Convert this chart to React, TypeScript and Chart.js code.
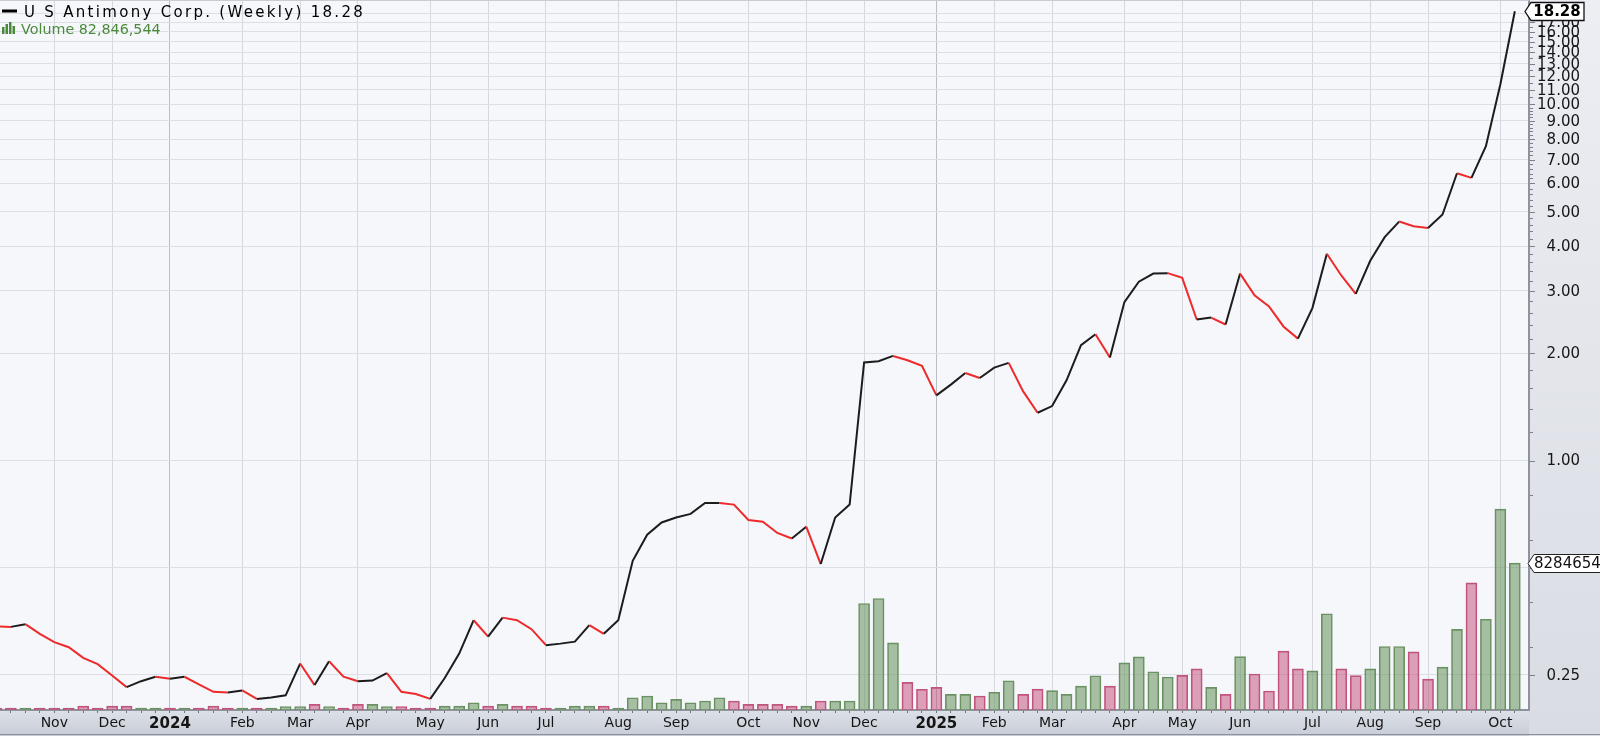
import { useEffect, useRef } from 'react';
import { Chart, registerables } from 'chart.js';

Chart.register(...registerables);

// ---- categories: week start (Monday) dates ----
const weekStarts: string[] = [
  '2023-10-09', '2023-10-16', '2023-10-23', '2023-10-30', '2023-11-06', '2023-11-13', '2023-11-20', '2023-11-27',
  '2023-12-04', '2023-12-11', '2023-12-18', '2023-12-25',
  '2024-01-01', '2024-01-08', '2024-01-15', '2024-01-22', '2024-01-29', '2024-02-05', '2024-02-12', '2024-02-19',
  '2024-02-26', '2024-03-04', '2024-03-11', '2024-03-18', '2024-03-25', '2024-04-01', '2024-04-08', '2024-04-15',
  '2024-04-22', '2024-04-29', '2024-05-06', '2024-05-13', '2024-05-20', '2024-05-27', '2024-06-03', '2024-06-10',
  '2024-06-17', '2024-06-24', '2024-07-01', '2024-07-08', '2024-07-15', '2024-07-22', '2024-07-29', '2024-08-05',
  '2024-08-12', '2024-08-19', '2024-08-26', '2024-09-02', '2024-09-09', '2024-09-16', '2024-09-23', '2024-09-30',
  '2024-10-07', '2024-10-14', '2024-10-21', '2024-10-28', '2024-11-04', '2024-11-11', '2024-11-18', '2024-11-25',
  '2024-12-02', '2024-12-09', '2024-12-16', '2024-12-23', '2024-12-30',
  '2025-01-06', '2025-01-13', '2025-01-20', '2025-01-27', '2025-02-03', '2025-02-10', '2025-02-17', '2025-02-24',
  '2025-03-03', '2025-03-10', '2025-03-17', '2025-03-24', '2025-03-31', '2025-04-07', '2025-04-14', '2025-04-21',
  '2025-04-28', '2025-05-05', '2025-05-12', '2025-05-19', '2025-05-26', '2025-06-02', '2025-06-09', '2025-06-16',
  '2025-06-23', '2025-06-30', '2025-07-07', '2025-07-14', '2025-07-21', '2025-07-28', '2025-08-04', '2025-08-11',
  '2025-08-18', '2025-08-25', '2025-09-01', '2025-09-08', '2025-09-15', '2025-09-22', '2025-09-29', '2025-10-06',
  '2025-10-13',
];

// ---- series: weekly close ----
const closes: number[] = [
  0.342, 0.341, 0.347, 0.326, 0.309, 0.299, 0.279, 0.268, 0.249, 0.231,
  0.240, 0.247, 0.244, 0.247, 0.235, 0.224, 0.223, 0.226, 0.214, 0.216,
  0.219, 0.269, 0.234, 0.273, 0.247, 0.240, 0.241, 0.253, 0.224, 0.221,
  0.214, 0.245, 0.287, 0.356, 0.320, 0.362, 0.356, 0.336, 0.303, 0.306,
  0.310, 0.345, 0.326, 0.356, 0.523, 0.619, 0.670, 0.692, 0.708, 0.760,
  0.760, 0.752, 0.681, 0.673, 0.626, 0.604, 0.652, 0.512, 0.692, 0.752,
  1.885, 1.901, 1.967, 1.913, 1.844, 1.524, 1.634, 1.762, 1.705, 1.824,
  1.880, 1.564, 1.362, 1.422, 1.680, 2.109, 2.264, 1.947, 2.786, 3.18,
  3.35, 3.36, 3.26, 2.49, 2.52, 2.41, 3.35, 2.91, 2.71, 2.38,
  2.20, 2.68, 3.81, 3.31, 2.94, 3.64, 4.24, 4.69, 4.55, 4.50,
  4.91, 6.41, 6.22, 7.64, 11.4, 18.28,
];

// ---- series: weekly volume (millions of shares) ----
const volumesM: number[] = [
  1.1, 1.1, 1.1, 1.1, 1.1, 1.1, 2.2, 1.1, 2.2, 2.2,
  1.1, 1.1, 1.1, 1.1, 1.1, 2.2, 1.1, 1.1, 1.1, 1.1,
  2.0, 2.0, 3.2, 2.0, 1.1, 3.2, 3.2, 2.0, 2.0, 1.1,
  1.1, 2.2, 2.2, 4.1, 2.2, 3.2, 2.2, 2.2, 1.1, 1.1,
  2.2, 2.2, 2.2, 1.1, 6.9, 7.9, 4.1, 6.0, 4.1, 5.1,
  6.9, 5.1, 3.2, 3.2, 3.2, 2.2, 2.2, 5.1, 5.1, 5.1,
  60.1, 62.9, 37.9, 15.6, 11.7, 12.8, 8.8, 8.8, 7.9, 10.0,
  16.5, 8.8, 11.8, 10.9, 8.8, 13.5, 19.3, 13.5, 26.6, 30.0,
  21.6, 18.6, 19.5, 23.2, 12.8, 8.8, 30.1, 20.3, 10.7, 33.2,
  23.2, 22.1, 54.3, 23.2, 19.4, 23.2, 35.8, 35.8, 32.8, 17.4,
  24.2, 45.5, 71.7, 51.2, 113.3, 82.846544,
];

// ---- tick labels ----
const monthNames: string[] = ['Jan', 'Feb', 'Mar', 'Apr', 'May', 'Jun', 'Jul', 'Aug', 'Sep', 'Oct', 'Nov', 'Dec'];
const priceGridValues: number[] = [0.25, 0.5, 1, 2, 3, 4, 5, 6, 7, 8, 9, 10, 11, 12, 13, 14, 15, 16, 17, 18];
const priceLabelValues: number[] = [0.25, 1, 2, 3, 4, 5, 6, 7, 8, 9, 10, 11, 12, 13, 14, 15, 16, 17, 18];
const minorTickValues: number[] = [
  0.3, 0.4, 0.6, 0.8, 1.2, 1.4, 1.6, 1.8, 2.2, 2.4, 2.6, 2.8, 3.2, 3.4, 3.6, 3.8, 4.2, 4.4, 4.6, 4.8,
  5.2, 5.4, 5.6, 5.8, 6.2, 6.4, 6.6, 6.8, 7.2, 7.4, 7.6, 7.8, 8.2, 8.4, 8.6, 8.8, 9.2, 9.4, 9.6, 9.8,
  10.5, 11.5, 12.5, 13.5, 14.5, 15.5, 16.5, 17.5, 18.5,
];

const TITLE = 'U S Antimony Corp. (Weekly) 18.28';
const VOLUME_TEXT = 'Volume 82,846,544';
const LAST_CLOSE_TEXT = '18.28';
const LAST_VOLUME_TEXT = '82846544';

const FONT = '"DejaVu Sans", Verdana, sans-serif';
const PRICE_MIN = 0.1992;
const PRICE_MAX = 19.53;
const VOL_MAX = 400;
const X_MIN = 0.245;
const X_MAX = 105.98;

function monthOf(i: number) {
  return Number(weekStarts[i].slice(5, 7));
}
function isMonthStart(i: number) {
  return i > 0 && i < weekStarts.length && monthOf(i) !== monthOf(i - 1);
}
function isYearStart(i: number) {
  return isMonthStart(i) && monthOf(i) === 1;
}
function tickLabel(i: number) {
  if (!isMonthStart(i)) return '';
  const m = monthOf(i);
  return m === 1 ? weekStarts[i].slice(0, 4) : monthNames[m - 1];
}

const UP_FILL = 'rgba(108,150,98,0.58)';
const UP_BORDER = '#6b9164';
const DOWN_FILL = 'rgba(196,78,120,0.52)';
const DOWN_BORDER = '#c0567d';

const isUp = (i: number) => i > 0 && closes[i] >= closes[i - 1];

const decorPlugin = {
  id: 'decor',
  beforeDraw(chart: any) {
    const { ctx, chartArea: a, width, height } = chart;
    ctx.save();
    let g = ctx.createLinearGradient(0, 0, 0, height);
    g.addColorStop(0, '#eceef3');
    g.addColorStop(1, '#d9dce3');
    ctx.fillStyle = g;
    ctx.fillRect(a.right, 0, width - a.right, height);
    g = ctx.createLinearGradient(0, a.bottom, 0, height);
    g.addColorStop(0, '#dde1e8');
    g.addColorStop(1, '#c8ccd6');
    ctx.fillStyle = g;
    ctx.fillRect(0, a.bottom, a.right, height - a.bottom);
    ctx.fillStyle = '#f5f7fb';
    ctx.fillRect(a.left, a.top, a.right - a.left, a.bottom - a.top);
    ctx.restore();
  },
  afterDraw(chart: any) {
    const { ctx, chartArea: a, width, height } = chart;
    const y = chart.scales.y;
    const vol = chart.scales.vol;
    ctx.save();
    ctx.strokeStyle = '#8a8f98';
    ctx.lineWidth = 1;
    ctx.beginPath();
    ctx.moveTo(0, height - 1.5);
    ctx.lineTo(width, height - 1.5);
    ctx.stroke();
    ctx.strokeStyle = '#c9ccd3';
    ctx.beginPath();
    ctx.moveTo(0, 0.5);
    ctx.lineTo(a.right, 0.5);
    ctx.stroke();

    // minor / major ticks on price axis
    ctx.strokeStyle = '#7a7f88';
    ctx.lineWidth = 1;
    for (const v of minorTickValues) {
      const py = Math.round(y.getPixelForValue(v)) + 0.5;
      if (py < a.top || py > a.bottom) continue;
      ctx.beginPath();
      ctx.moveTo(a.right + 1, py);
      ctx.lineTo(a.right + 4, py);
      ctx.stroke();
    }
    for (const v of priceGridValues) {
      const py = Math.round(y.getPixelForValue(v)) + 0.5;
      ctx.beginPath();
      ctx.moveTo(a.right + 1, py);
      ctx.lineTo(a.right + 6, py);
      ctx.stroke();
    }

    // price labels
    ctx.fillStyle = '#161616';
    ctx.font = `15px ${FONT}`;
    ctx.textAlign = 'right';
    ctx.textBaseline = 'middle';
    for (const v of priceLabelValues) {
      ctx.fillText(v.toFixed(2), 1580, y.getPixelForValue(v) + 1);
    }

    // last close tag
    const cy = Math.round(y.getPixelForValue(closes[closes.length - 1])) + 0.5;
    ctx.beginPath();
    ctx.moveTo(a.right - 4, cy);
    ctx.lineTo(a.right + 2, cy - 9);
    ctx.lineTo(1584, cy - 9);
    ctx.lineTo(1584, cy + 9);
    ctx.lineTo(a.right + 2, cy + 9);
    ctx.closePath();
    ctx.fillStyle = '#ffffff';
    ctx.fill();
    ctx.strokeStyle = '#111';
    ctx.lineWidth = 1.3;
    ctx.stroke();
    ctx.fillStyle = '#000';
    ctx.font = `bold 15px ${FONT}`;
    ctx.textAlign = 'center';
    ctx.fillText(LAST_CLOSE_TEXT, 1557, cy + 1);

    // last volume tag
    const vy = Math.round(vol.getPixelForValue(volumesM[volumesM.length - 1])) + 0.5;
    ctx.beginPath();
    ctx.moveTo(a.right - 1, vy);
    ctx.lineTo(a.right + 5, vy - 9);
    ctx.lineTo(width + 5, vy - 9);
    ctx.lineTo(width + 5, vy + 9);
    ctx.lineTo(a.right + 5, vy + 9);
    ctx.closePath();
    ctx.fillStyle = '#ffffff';
    ctx.fill();
    ctx.strokeStyle = '#222';
    ctx.lineWidth = 1;
    ctx.stroke();
    ctx.fillStyle = '#111';
    ctx.font = `15px ${FONT}`;
    ctx.textAlign = 'left';
    ctx.fillText(LAST_VOLUME_TEXT, a.right + 5, vy + 1);

    // legend
    ctx.strokeStyle = '#000';
    ctx.lineWidth = 3;
    ctx.beginPath();
    ctx.moveTo(2, 11);
    ctx.lineTo(17, 11);
    ctx.stroke();
    ctx.fillStyle = '#000';
    ctx.font = `15px ${FONT}`;
    ctx.textAlign = 'left';
    ctx.textBaseline = 'alphabetic';
    (ctx as any).letterSpacing = '2.3px';
    ctx.fillText(TITLE, 24, 17);
    (ctx as any).letterSpacing = '0px';

    ctx.fillStyle = '#4a8a3a';
    const bars = [7, 10, 12, 8];
    bars.forEach((h, k) => ctx.fillRect(2 + k * 3.5, 34 - h, 2.5, h));
    ctx.font = `14.3px ${FONT}`;
    ctx.fillText(VOLUME_TEXT, 21, 34);
    ctx.restore();
  },
};

export default function App() {
  const ref = useRef<HTMLCanvasElement>(null);

  useEffect(() => {
    const canvas = ref.current;
    if (!canvas) return;
    const chart = new Chart(canvas, {
      type: 'line',
      data: {
        datasets: [
          {
            type: 'line',
            data: closes.map((v, i) => ({ x: i, y: v })),
            xAxisID: 'x',
            yAxisID: 'y',
            borderColor: '#1c1c1c',
            borderWidth: 2,
            pointRadius: 0,
            tension: 0,
            order: 1,
            segment: {
              borderColor: (c: any) => (c.p1.parsed.y < c.p0.parsed.y ? '#ee2a2a' : '#1c1c1c'),
            },
          } as any,
          {
            type: 'bar',
            data: volumesM.map((v, i) => ({ x: i, y: v })),
            xAxisID: 'x',
            yAxisID: 'vol',
            backgroundColor: volumesM.map((_, i) => (isUp(i) ? UP_FILL : DOWN_FILL)),
            borderColor: volumesM.map((_, i) => (isUp(i) ? UP_BORDER : DOWN_BORDER)),
            borderWidth: 1,
            borderSkipped: 'bottom',
            barThickness: 11,
            grouped: false,
            order: 2,
          } as any,
        ],
      },
      options: {
        responsive: false,
        animation: false,
        events: [],
        layout: { padding: { top: 1, left: 0, right: 0, bottom: 0 } },
        plugins: { legend: { display: false }, tooltip: { enabled: false } },
        scales: {
          x: {
            type: 'linear',
            position: 'bottom',
            min: X_MIN,
            max: X_MAX,
            offset: false,
            afterBuildTicks: (s: any) => {
              s.ticks = weekStarts
                .map((_, i) => ({ value: i }))
                .filter((t) => t.value >= X_MIN && t.value <= X_MAX);
            },
            afterFit: (s: any) => {
              s.height = 26;
            },
            ticks: {
              autoSkip: false,
              maxRotation: 0,
              minRotation: 0,
              padding: 2,
              color: '#151515',
              callback: (v: any) => tickLabel(Number(v)),
              font: (c: any) =>
                c.tick && isYearStart(c.tick.value)
                  ? { family: FONT, size: 15, weight: 'bold' }
                  : { family: FONT, size: 14 },
            },
            grid: {
              offset: false,
              color: (c: any) =>
                c.tick && isYearStart(c.tick.value)
                  ? '#b9bdc5'
                  : c.tick && isMonthStart(c.tick.value)
                  ? '#d5d8df'
                  : 'rgba(0,0,0,0)',
              tickColor: '#6d727b',
              tickLength: 3,
              lineWidth: 1,
            },
            border: { color: '#8e939c', width: 2 },
          } as any,
          y: {
            type: 'logarithmic',
            position: 'right',
            min: PRICE_MIN,
            max: PRICE_MAX,
            afterBuildTicks: (s: any) => {
              s.ticks = priceGridValues.map((v) => ({ value: v }));
            },
            afterFit: (s: any) => {
              s.width = 71;
            },
            ticks: { display: false },
            grid: { color: '#dcdfe5', drawTicks: false, lineWidth: 1 },
            border: { color: '#8e939c', width: 2 },
          } as any,
          vol: {
            type: 'linear',
            display: false,
            min: 0,
            max: VOL_MAX,
          },
        },
      },
      plugins: [decorPlugin],
    });
    return () => chart.destroy();
  }, []);

  return (
    <div style={{ position: 'fixed', left: 0, top: 0, width: 1600, height: 736, background: '#ffffff' }}>
      <canvas ref={ref} width={1600} height={736} style={{ display: 'block', width: 1600, height: 736 }} />
    </div>
  );
}
